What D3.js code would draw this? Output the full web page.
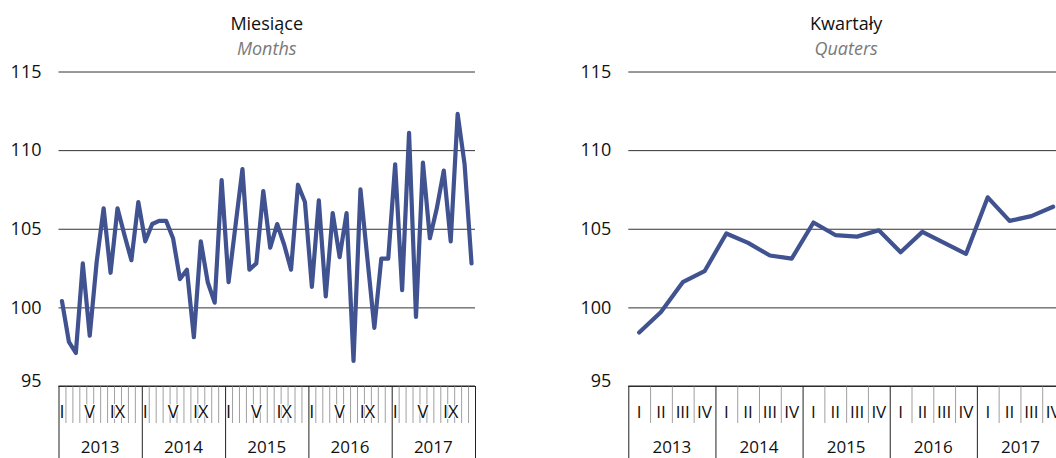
<!DOCTYPE html>
<html>
<head>
<meta charset="utf-8">
<script src="https://cdn.jsdelivr.net/npm/d3@7"></script>
<style>
  html, body { margin: 0; padding: 0; background: #fff; }
  svg { display: block; }
  text { font-family: "Open Sans", "Noto Sans", sans-serif; }
</style>
</head>
<body>
<svg id="chart" width="1056" height="458"></svg>
<script>
// ---- data ----
const years = ["2013", "2014", "2015", "2016", "2017"];
const monthLabels = ["I", "", "", "", "V", "", "", "", "IX", "", "", ""];
const quarterLabels = ["I", "II", "III", "IV"];
const yTicks = [95, 100, 105, 110, 115];

const monthlyValues = [
  100.4, 97.8, 97.1, 102.8, 98.2, 102.9, 106.3, 102.2, 106.3, 104.6, 103.0, 106.7,
  104.2, 105.3, 105.5, 105.5, 104.4, 101.8, 102.4, 98.1, 104.2, 101.6, 100.3, 108.1,
  101.6, 105.2, 108.8, 102.4, 102.8, 107.4, 103.8, 105.3, 104.0, 102.4, 107.8, 106.7,
  101.3, 106.8, 100.7, 106.0, 103.2, 106.0, 96.6, 107.5, 103.1, 98.7, 103.1, 103.1,
  109.1, 101.1, 111.1, 99.4, 109.2, 104.4, 106.3, 108.7, 104.2, 112.3, 109.1, 102.8
];
const quarterlyValues = [
  98.4, 99.7, 101.6, 102.3, 104.7, 104.1, 103.3, 103.1, 105.4, 104.6,
  104.5, 104.9, 103.5, 104.8, 104.1, 103.4, 107.0, 105.5, 105.8, 106.4
];

const titles = [
  { main: "Miesiące", sub: "Months" },
  { main: "Kwartały", sub: "Quaters" }
];

// ---- layout ----
const svg = d3.select("#chart");
const FONT = "'Open Sans', 'Noto Sans', sans-serif";
const plotTop = 71.5, plotBottom = 386;
const y = d3.scaleLinear().domain([95, 115]).range([plotBottom, plotTop]);
const lineColor = "#40528f";

function panel(opts) {
  const { x0, x1, values, perYear, labels, title, labelSize } = opts;
  const n = values.length;
  const x = d3.scaleLinear().domain([0, n]).range([x0, x1]);
  const g = svg.append("g").attr("font-family", FONT);

  // gridlines + y labels via axis
  const yAxis = d3.axisLeft(y).tickValues(yTicks).tickSize(-(x1 - x0)).tickPadding(17);
  const ya = g.append("g").attr("transform", `translate(${x0},0)`).call(yAxis);
  ya.attr("font-family", FONT);
  ya.select(".domain").remove();
  ya.selectAll(".tick line").attr("stroke", "#333").attr("stroke-width", 1);
  ya.selectAll(".tick text")
    .attr("font-size", 18).attr("fill", "#111")
    .attr("dy", d => d === 95 ? "0.05em" : "0.32em");

  // minor ticks (period boundaries)
  const minor = d3.range(0, n + 1).filter(i => i % perYear !== 0);
  const xMinor = d3.axisBottom(x).tickValues(minor).tickSize(37).tickFormat("");
  const xm = g.append("g").attr("transform", `translate(0,${plotBottom})`).call(xMinor);
  xm.select(".domain").remove();
  xm.selectAll(".tick line").attr("stroke", "#a0a0a0").attr("stroke-width", 1);

  // period labels (white halo so ticks break around them)
  g.append("g").selectAll("text")
    .data(d3.range(n).filter(i => labels[i % perYear] !== ""))
    .join("text")
    .attr("x", i => x(i + 0.5))
    .attr("y", 418)
    .attr("text-anchor", "middle")
    .attr("font-family", FONT)
    .attr("font-size", labelSize)
    .attr("fill", "#111")
    .attr("stroke", "#fff").attr("stroke-width", 2).attr("paint-order", "stroke")
    .text(i => labels[i % perYear]);

  // year separators
  const major = d3.range(0, n + 1, perYear);
  const xMajor = d3.axisBottom(x).tickValues(major).tickSize(72).tickFormat("");
  const xM = g.append("g").attr("transform", `translate(0,${plotBottom})`).call(xMajor);
  xM.select(".domain").attr("stroke", "#222").attr("d", `M${x0},0H${x1}`);
  xM.selectAll(".tick line").attr("stroke", "#222").attr("stroke-width", 1);

  // year labels
  g.append("g").selectAll("text")
    .data(years)
    .join("text")
    .attr("x", (d, i) => x(i * perYear + perYear / 2))
    .attr("y", 453)
    .attr("text-anchor", "middle")
    .attr("font-family", FONT)
    .attr("font-size", 17)
    .attr("fill", "#111")
    .text(d => d);

  // line
  const line = d3.line().x((d, i) => x(i + 0.5)).y(d => y(d));
  g.append("path")
    .datum(values)
    .attr("fill", "none")
    .attr("stroke", lineColor)
    .attr("stroke-width", 4.2)
    .attr("stroke-linejoin", "round")
    .attr("stroke-linecap", "round")
    .attr("d", line);

  // titles
  const cx = (x0 + x1) / 2;
  g.append("text").attr("x", cx).attr("y", 30).attr("text-anchor", "middle")
    .attr("font-size", 18).attr("fill", "#111").text(title.main);
  g.append("text").attr("x", cx).attr("y", 55).attr("text-anchor", "middle")
    .attr("font-size", 18).attr("font-style", "italic").attr("fill", "#7a7a7a").text(title.sub);
}

panel({ x0: 58.5, x1: 475, values: monthlyValues, perYear: 12, labels: monthLabels, title: titles[0], labelSize: 18 });
panel({ x0: 628.3, x1: 1064, values: quarterlyValues, perYear: 4, labels: quarterLabels, title: titles[1], labelSize: 17 });
</script>
</body>
</html>
